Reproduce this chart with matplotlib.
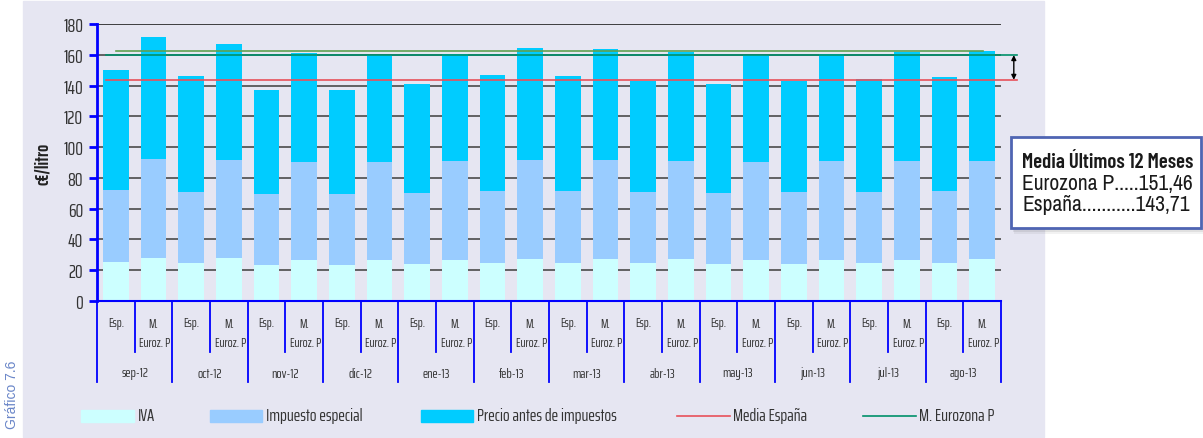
import numpy as np
import matplotlib
matplotlib.use("Agg")
import matplotlib.pyplot as plt
from matplotlib.patches import Rectangle
from matplotlib import transforms

meses = ['sep-12', 'oct-12', 'nov-12', 'dic-12', 'ene-13', 'feb-13',
         'mar-13', 'abr-13', 'may-13', 'jun-13', 'jul-13', 'ago-13']

# España
esp_iva = [25.3, 24.7, 23.4, 23.4, 24.0, 24.7, 24.7, 24.7, 24.0, 24.0, 24.7, 24.7]
esp_imp = [46.8, 46.1, 46.1, 46.1, 46.2, 46.8, 46.8, 46.1, 46.2, 46.8, 46.1, 46.8]
esp_precio = [78.0, 75.4, 67.6, 67.6, 70.8, 75.4, 74.7, 72.2, 70.8, 72.2, 73.5, 74.1]

# media eurozona ponderada
ez_iva = [27.9, 27.9, 26.6, 26.6, 26.6, 27.3, 27.3, 27.3, 26.6, 26.6, 26.6, 27.3]
ez_imp = [64.4, 63.7, 63.7, 63.7, 64.4, 64.3, 64.3, 63.7, 63.7, 64.4, 64.4, 63.7]
ez_precio = [79.2, 75.4, 70.8, 69.5, 69.5, 72.8, 72.1, 70.8, 69.5, 69.5, 70.8, 71.5]

media_espana = 143.71
media_eurozona = 159.8
media_eurozona2 = 162.4

W, H = 1203, 439
fig = plt.figure(figsize=(W / 100, H / 100), dpi=100)

def fx(px):
    return px / W

def fy(py):
    return 1 - py / H

narrow = ['Saira ExtraCondensed', 'Abel', 'DejaVu Sans']
caja = ['Archivo Narrow', 'Roboto Condensed', 'DejaVu Sans']
caja_b = ['Barlow Condensed', 'Roboto Condensed', 'DejaVu Sans']
blue = '#0000ff'
gris = '#333333'

# fondo lila
fig.add_artist(Rectangle((fx(23), fy(438)), fx(1044) - fx(23), fy(2) - fy(438),
                         transform=fig.transFigure, color='#e6e6f2', zorder=-5))

ax = fig.add_axes([fx(97), fy(302), fx(1001) - fx(97), fy(25) - fy(302)])
ax.set_facecolor('none')

x_esp = np.arange(12) * 2 + 0.5
x_ez = np.arange(12) * 2 + 1.5
bw = 0.69

c_iva, c_imp, c_pre = '#ccffff', '#99ccff', '#00ccff'
for xs, iva, imp, pre in [(x_esp, esp_iva, esp_imp, esp_precio),
                          (x_ez, ez_iva, ez_imp, ez_precio)]:
    iva = np.array(iva); imp = np.array(imp); pre = np.array(pre)
    ax.bar(xs, iva, bw, color=c_iva, zorder=2)
    ax.bar(xs, imp, bw, bottom=iva, color=c_imp, zorder=2)
    ax.bar(xs, pre, bw, bottom=iva + imp, color=c_pre, zorder=2)

ax.set_xlim(0, 24)
ax.set_ylim(0, 180)
ax.set_yticks(np.arange(0, 181, 20))
for v in range(20, 181, 20):
    ax.axhline(v, color='#222222' if v == 180 else '#4a4a4a', lw=1.2, zorder=1)

for s in ['top', 'right']:
    ax.spines[s].set_visible(False)
ax.spines['left'].set_color(blue)
ax.spines['left'].set_linewidth(2)
ax.spines['bottom'].set_color(blue)
ax.spines['bottom'].set_linewidth(1.5)
ax.tick_params(axis='y', colors=blue, width=2, length=6, labelcolor=gris,
               labelsize=14, pad=4)
for t in ax.get_yticklabels():
    t.set_family(narrow)
ax.set_xticks([])
ax.set_ylabel('c€/litro', family=narrow, fontweight='bold', fontsize=13.5,
              color='#222222', labelpad=8)

# medias
ax.plot([0.24, 24.42], [media_espana] * 2, color='#e8505a', lw=1.2,
        clip_on=False, zorder=3)
ax.plot([0.24, 24.42], [media_eurozona] * 2, color='#00906a', lw=1.2,
        clip_on=False, zorder=3)
ax.plot([0.50, 23.52], [media_eurozona2] * 2, color='#60a050', lw=1.2,
        clip_on=False, zorder=3)
ax.annotate('', xy=(24.34, media_eurozona), xytext=(24.34, media_espana),
            arrowprops=dict(arrowstyle='<|-|>', color='black', lw=1,
                            mutation_scale=7, shrinkA=0, shrinkB=0),
            annotation_clip=False)

# tabla de categorias bajo el eje
tr = transforms.blended_transform_factory(ax.transData, fig.transFigure)
for i in range(13):
    ax.plot([2 * i, 2 * i], [fy(302), fy(383)], color=blue, lw=1.3,
            transform=tr, clip_on=False)
for i in range(12):
    ax.plot([2 * i + 1, 2 * i + 1], [fy(302), fy(353)], color=blue, lw=1.3,
            transform=tr, clip_on=False)
    ax.text(x_esp[i], fy(324), 'Esp.', transform=tr, ha='center', va='center',
            family=narrow, fontsize=9.5, color=gris)
    ax.text(x_ez[i], fy(324), 'M.', transform=tr, ha='center', va='center',
            family=narrow, fontsize=9.5, color=gris)
    ax.text(x_ez[i] + 0.04, fy(344), 'Euroz. P', transform=tr, ha='center',
            va='center', family=narrow, fontsize=9.5, color=gris)
    ax.text(2 * i + 1, fy(374), meses[i], transform=tr, ha='center',
            va='center', family=narrow, fontsize=10, color=gris)

# leyenda
ly = fy(416)
for x0, x1, col, lab in [(81, 134, c_iva, 'IVA'), (210, 262, c_imp, 'Impuesto especial'),
                         (421, 473, c_pre, 'Precio antes de impuestos')]:
    fig.add_artist(Rectangle((fx(x0), fy(423)), fx(x1) - fx(x0), fy(411) - fy(423),
                             transform=fig.transFigure, color=col))
    fig.text(fx(x1 + 4), ly, lab, family=narrow, fontsize=12.8, va='center',
             color=gris)
for x0, x1, col, lab in [(677, 730, '#e8505a', 'Media España'),
                         (863, 916, '#00906a', 'M. Eurozona P')]:
    fig.add_artist(plt.Line2D([fx(x0), fx(x1)], [fy(417), fy(417)], color=col,
                              lw=1.2, transform=fig.transFigure))
    fig.text(fx(x1 + 3), ly, lab, family=narrow, fontsize=12.8, va='center',
             color=gris)

fig.text(fx(12), fy(395), 'Gráfico 7.6', rotation=90, ha='center', va='center',
         family=['Liberation Sans', 'DejaVu Sans'], fontsize=10, color='#6a86c8')

# recuadro con las medias de los ultimos 12 meses
for k, a in [(6, 0.05), (4, 0.07), (2, 0.09)]:
    fig.add_artist(Rectangle((fx(1011 + k / 2), fy(229 + k)), fx(190), fy(138) - fy(229),
                             transform=fig.transFigure, color='black', alpha=a,
                             lw=0))
fig.add_artist(Rectangle((fx(1011), fy(229)), fx(190), fy(138) - fy(229),
                         transform=fig.transFigure, facecolor='white',
                         edgecolor='#4f65b3', lw=2))
fig.text(fx(1022), fy(162), 'Media Últimos 12 Meses', family=caja_b,
         fontweight='semibold', fontsize=15, va='center', color='#1a1a1a')
fig.text(fx(1022), fy(184), 'Eurozona P.....151,46', family=caja,
         fontsize=15.5, va='center', color='#1a1a1a')
fig.text(fx(1022), fy(205), 'España...........143,71', family=caja,
         fontsize=15.5, va='center', color='#1a1a1a')

fig.savefig('out.png', dpi=100)
